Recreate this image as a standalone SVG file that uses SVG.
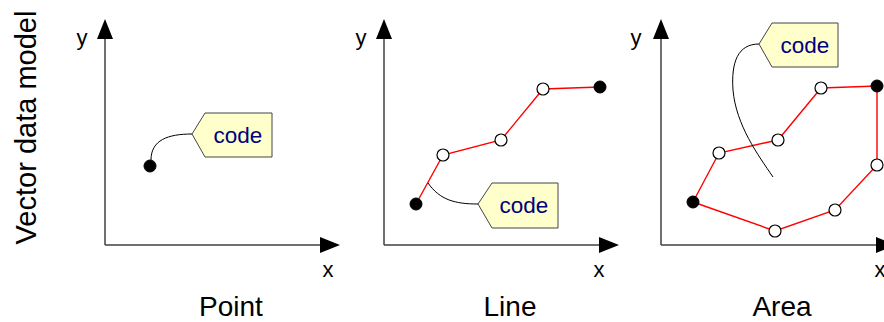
<svg xmlns="http://www.w3.org/2000/svg" width="884" height="322" viewBox="0 0 884 322">
<style>
  .axis { stroke: #404040; stroke-width: 1.5; fill: none; }
  .lbl { font-family: "Liberation Sans", Arial, sans-serif; fill: #000; }
  .ax { font-size: 22px; text-anchor: middle; }
  .title { font-size: 28px; text-anchor: middle; }
  .red { stroke: #ff0000; stroke-width: 1.4; fill: none; }
  .open { fill: #ffffff; stroke: #000; stroke-width: 1.2; }
  .fill { fill: #000; stroke: #000; stroke-width: 1; }
  .tag { fill: #ffffcc; stroke: #444; stroke-width: 1; }
  .code { font-family: "Liberation Sans", Arial, sans-serif; font-size: 22.5px; fill: #000080; text-anchor: middle; }
  .lead { stroke: #000; stroke-width: 1; fill: none; }
</style>
<defs>
  <marker id="arr" markerUnits="userSpaceOnUse" markerWidth="20" markerHeight="16" refX="0" refY="8" orient="auto" overflow="visible">
    <path d="M0,0 L20,8 L0,16 z" fill="#000"/>
  </marker>
</defs>

<text class="lbl" font-size="29" transform="translate(36,127.5) rotate(-90)" text-anchor="middle">Vector data model</text>

<g id="panel-point">
  <line class="axis" x1="105" y1="245" x2="105" y2="39" marker-end="url(#arr)"/>
  <line class="axis" x1="105" y1="245" x2="320" y2="245" marker-end="url(#arr)"/>
  <text class="lbl ax" x="82" y="45">y</text>
  <text class="lbl ax" x="328" y="277">x</text>
  <text class="lbl title" x="231" y="316">Point</text>
</g>
<g id="point-node">
  <circle class="fill" cx="150" cy="166" r="6"/>
</g>
<g id="point-tag">
  <polygon class="tag" points="192,134 205,113 272,113 272,157 205,157"/>
  <text class="code" x="238" y="143">code</text>
</g>

<g id="panel-line">
  <line class="axis" x1="384" y1="245" x2="384" y2="39" marker-end="url(#arr)"/>
  <line class="axis" x1="384" y1="245" x2="599" y2="245" marker-end="url(#arr)"/>
  <text class="lbl ax" x="361" y="45">y</text>
  <text class="lbl ax" x="599" y="277">x</text>
  <text class="lbl title" x="510" y="316">Line</text>
</g>
<g id="line-node">
  <polyline class="red" points="416,204 443,155 501,140 543,89 600,87"/>
  <circle class="fill" cx="416" cy="204" r="6"/>
  <circle class="open" cx="443" cy="155" r="6"/>
  <circle class="open" cx="501" cy="140" r="6"/>
  <circle class="open" cx="543" cy="89" r="6"/>
  <circle class="fill" cx="600" cy="87" r="6"/>
</g>
<g id="line-tag">
  <polygon class="tag" points="478,204 492,183 558,183 558,228 492,228"/>
  <text class="code" x="524" y="213">code</text>
</g>

<g id="panel-area">
  <line class="axis" x1="661" y1="245" x2="661" y2="39" marker-end="url(#arr)"/>
  <line class="axis" x1="661" y1="245" x2="876" y2="245" marker-end="url(#arr)"/>
  <text class="lbl ax" x="636" y="45">y</text>
  <text class="lbl ax" x="880" y="277">x</text>
  <text class="lbl title" x="782" y="316">Area</text>
</g>
<g id="area-node">
  <polygon class="red" points="693,202 719,153 778,140 821,88 877,86 877,165 835,210 775,231"/>
  <circle class="fill" cx="693" cy="202" r="6"/>
  <circle class="open" cx="719" cy="153" r="6"/>
  <circle class="open" cx="778" cy="140" r="6"/>
  <circle class="open" cx="821" cy="88" r="6"/>
  <circle class="fill" cx="877" cy="86" r="6"/>
  <circle class="open" cx="877" cy="165" r="6"/>
  <circle class="open" cx="835" cy="210" r="6"/>
  <circle class="open" cx="775" cy="231" r="6"/>
</g>
<g id="area-tag">
  <polygon class="tag" points="759,44 772,23 838,23 838,67 772,67"/>
  <text class="code" x="805" y="53">code</text>
</g>

<g id="connectors">
  <path class="lead" d="M151,160 C151,140 168,134 192,134"/>
  <path class="lead" d="M428,183 C440,200 455,204 478,204"/>
  <path class="lead" d="M759,44 C738,44 731,62 733,90 C736,125 758,155 773,177"/>
</g>
</svg>
